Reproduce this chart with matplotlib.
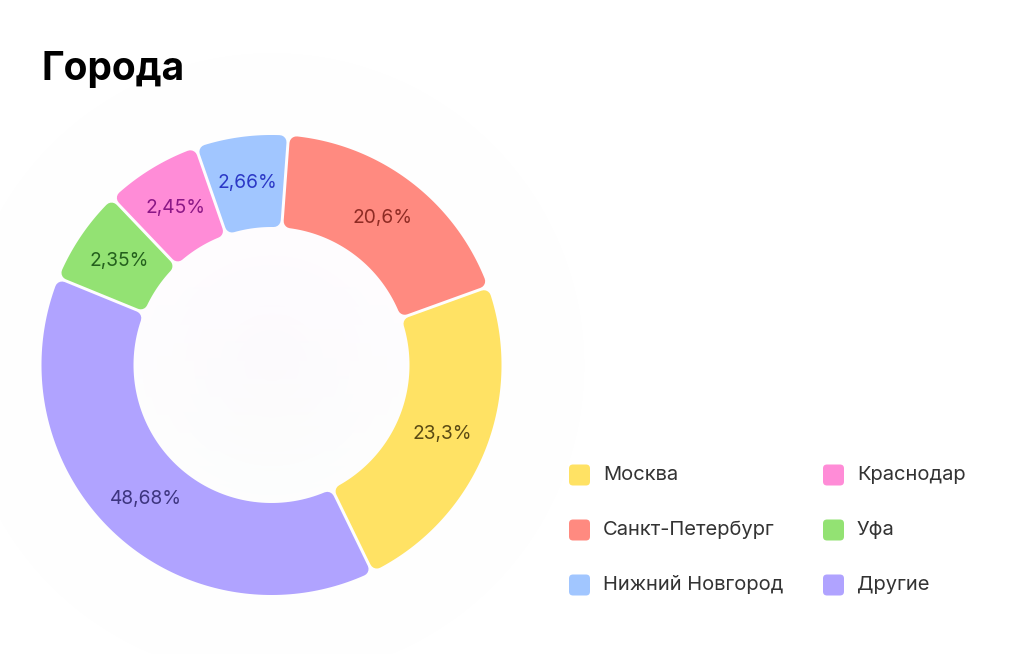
import numpy as np
import matplotlib
matplotlib.use("Agg")
import matplotlib.pyplot as plt
from matplotlib.patches import Polygon, FancyBboxPatch

# ---- data -------------------------------------------------------------
categories = ["Москва", "Санкт-Петербург", "Нижний Новгород",
              "Краснодар", "Уфа", "Другие"]
shares = [23.3, 20.6, 2.66, 2.45, 2.35, 48.68]          # printed percentages
# sector sizes as they are drawn in the picture (small slices widened by min-angle)
drawn_sizes = [23.3, 18.3, 6.5, 6.8, 6.7, 38.4]
title = "Города"

slice_colors = ["#FFE264", "#FF8A80", "#A1C6FF", "#FF8CD7", "#93E273", "#B0A3FF"]
label_colors = ["#5A4A14", "#8E2B24", "#2B38C6", "#8B1786", "#24601D", "#3D357F"]

# ---- figure -----------------------------------------------------------
W, H = 1024, 654
plt.rcParams['font.family'] = ['Inter', 'DejaVu Sans']
fig = plt.figure(figsize=(W / 100, H / 100), dpi=100)
ax = fig.add_axes([0, 0, 1, 1])

CX, CY = 271.5, H - 365.0
R_OUT, R_IN = 230.0, 138.0

# faint background glow
yy, xx = np.mgrid[0:H, 0:W]
dist = np.hypot(xx - CX, yy - 365.0)
glow = np.clip(1 - dist / 340.0, 0, 1) ** 1.6
img = np.ones((H, W, 4))
tint_top = np.array([0.97, 0.90, 0.99])
tint_bot = np.array([0.90, 0.97, 0.90])
mix = np.clip((yy - 280) / 320.0, 0, 1)[..., None]
tint = tint_top * (1 - mix) + tint_bot * mix
img[..., :3] = tint
img[..., 3] = 0.22 * glow
ax.imshow(img, extent=(0, W, 0, H), origin='upper', zorder=0, interpolation='bilinear')

wedges, _ = ax.pie(drawn_sizes, center=(CX, CY), radius=R_OUT, startangle=-64,
                   counterclock=True, colors=slice_colors,
                   wedgeprops=dict(width=R_OUT - R_IN))

CORNER = 7.0
GAP = 3.0


def rounded_sector(t1, t2, color):
    d = GAP / 2 + CORNER
    ro, ri = R_OUT - CORNER, R_IN + CORNER
    ao1 = t1 + np.degrees(np.arcsin(d / ro))
    ao2 = t2 - np.degrees(np.arcsin(d / ro))
    ai1 = t1 + np.degrees(np.arcsin(d / ri))
    ai2 = t2 - np.degrees(np.arcsin(d / ri))
    outer = np.radians(np.linspace(ao1, ao2, 120))
    inner = np.radians(np.linspace(ai2, ai1, 80))
    pts = np.vstack([
        np.column_stack([CX + ro * np.cos(outer), CY + ro * np.sin(outer)]),
        np.column_stack([CX + ri * np.cos(inner), CY + ri * np.sin(inner)]),
    ])
    return Polygon(pts, closed=True, facecolor=color, edgecolor=color,
                   linewidth=2 * CORNER * 0.72, joinstyle='round', zorder=2)


for w, col, lcol, val in zip(wedges, slice_colors, label_colors, shares):
    w.set_visible(False)
    ax.add_patch(rounded_sector(w.theta1, w.theta2, col))
    mid = np.radians((w.theta1 + w.theta2) / 2)
    rl = (R_OUT + R_IN) / 2
    txt = f"{val:g}".replace('.', ',') + "%"
    ax.text(CX + rl * np.cos(mid), CY + rl * np.sin(mid), txt,
            ha='center', va='center', fontsize=13.8, color=lcol, zorder=3)

# title
ax.text(42, H - 80, title, fontsize=28, fontweight='bold', color='#000000',
        ha='left', va='baseline', zorder=3)

# legend (two columns, three rows)
for i, (name, col) in enumerate(zip(categories, slice_colors)):
    c, r = divmod(i, 3)
    x0 = 569 + c * 254
    yc = H - (475 + r * 55)
    ax.add_patch(FancyBboxPatch((x0, yc - 10.5), 21, 21,
                                boxstyle="round,pad=0,rounding_size=4",
                                facecolor=col, edgecolor='none', zorder=3))
    ax.text(x0 + 34, yc, name, fontsize=14.5, color='#333333',
            ha='left', va='center', zorder=3)

ax.set_xlim(0, W)
ax.set_ylim(0, H)
ax.set_aspect('equal')
ax.axis('off')
fig.savefig("out.png", dpi=100, facecolor='white')
